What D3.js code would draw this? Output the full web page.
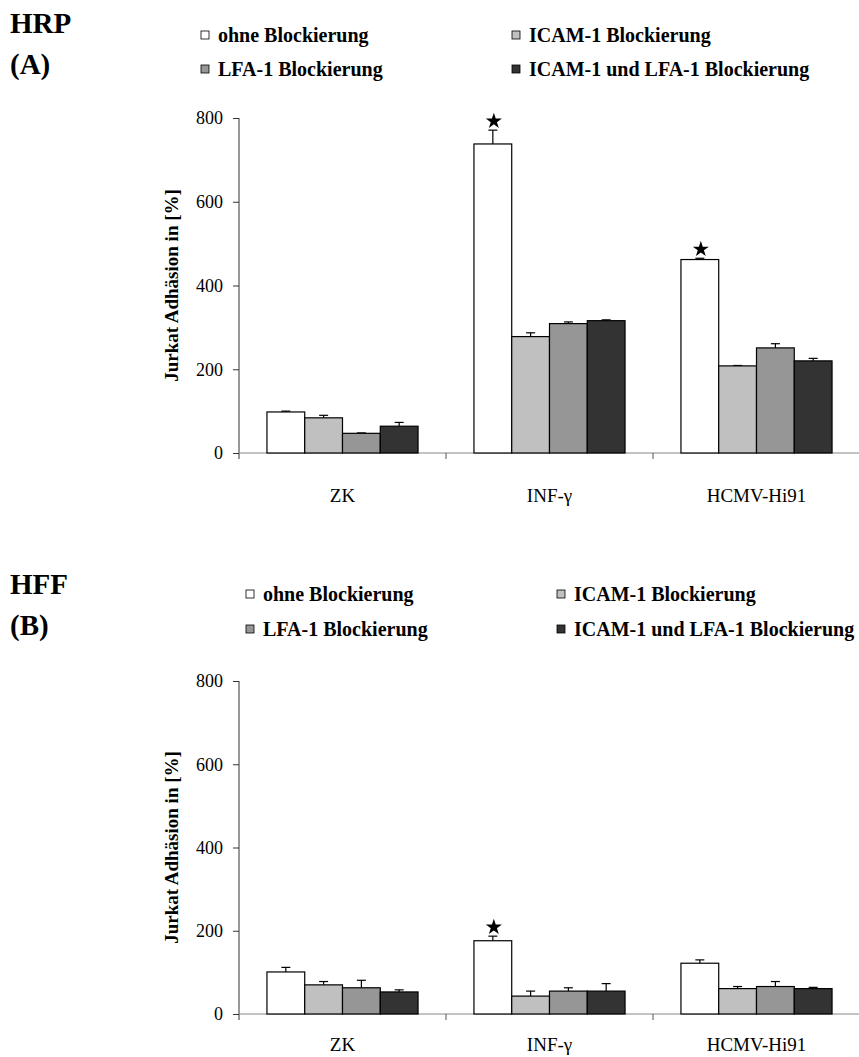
<!DOCTYPE html>
<html>
<head>
<meta charset="utf-8">
<script src="https://cdn.jsdelivr.net/npm/d3@7"></script>
<style>
  body { margin: 0; background: #fff; }
  svg { display: block; font-family: "Liberation Serif", "Times New Roman", serif; }
</style>
</head>
<body>
<svg id="chart"></svg>
<script>
// values (per category: ohne, ICAM-1, LFA-1, ICAM-1+LFA-1)
const categories = ["ZK", "INF-\u03b3", "HCMV-Hi91"];
const seriesNames = ["ohne Blockierung", "ICAM-1 Blockierung", "LFA-1 Blockierung", "ICAM-1 und LFA-1 Blockierung"];
const yTicks = [0, 200, 400, 600, 800];

const hrpValues = [[98, 84, 47, 64], [738, 278, 309, 316], [462, 208, 251, 220]];
const hrpErrors = [[2, 6, 1, 9], [33, 9, 4, 2], [3, 1, 10, 6]];
const hrpStars = ["INF-\u03b3", "HCMV-Hi91"];

const hffValues = [[101, 70, 63, 53], [176, 43, 55, 55], [122, 61, 66, 61]];
const hffErrors = [[11, 8, 18, 5], [11, 12, 8, 18], [8, 5, 12, 3]];
const hffStars = ["INF-\u03b3"];

const colors = ["#ffffff", "#c0c0c0", "#969696", "#333333"];

const width = 859, height = 1057;
const svg = d3.select("#chart").attr("width", width).attr("height", height);

function panel(opts) {
  const g = svg.append("g");

  const x0 = d3.scaleBand().domain(categories).range([239, 860]).padding(0);
  const x1 = d3.scaleBand().domain(seriesNames).range([0, x0.bandwidth()])
      .paddingInner(0).paddingOuter(0.74);
  const y = d3.scaleLinear().domain([0, 800]).range(opts.yRange);

  // title
  g.append("text").attr("x", 10).attr("y", opts.titleY)
      .attr("font-weight", "bold").attr("font-size", 29).text(opts.title);
  g.append("text").attr("x", 10).attr("y", opts.titleY + 41)
      .attr("font-weight", "bold").attr("font-size", 29).text(opts.sub);

  // legend
  const leg = g.append("g").selectAll("g")
    .data(seriesNames)
    .join("g")
      .attr("transform", (d, i) => `translate(${opts.legX[i % 2]},${opts.legY[Math.floor(i / 2)]})`);
  leg.append("rect")
      .attr("x", 0).attr("y", -11).attr("width", 8).attr("height", 8)
      .attr("fill", (d, i) => colors[i]).attr("stroke", "#000").attr("stroke-width", 0.8);
  leg.append("text")
      .attr("x", 17).attr("font-weight", "bold").attr("font-size", 20)
      .text(d => d);

  // axes
  g.append("g")
      .attr("transform", `translate(239,0)`)
      .call(d3.axisLeft(y).tickValues(yTicks).tickSize(6).tickPadding(10).tickSizeOuter(0))
      .call(a => a.select(".domain").attr("stroke", "#333")
          .attr("d", `M0,${opts.yRange[1]}V${opts.yRange[0] + 6}`))
      .call(a => a.selectAll(".tick line").attr("stroke", "#333"))
      .call(a => a.selectAll(".tick text").attr("font-size", 18)
          .attr("font-family", "Liberation Serif").attr("fill", "#000"));

  const xa = g.append("g").attr("transform", `translate(0,${opts.yRange[0]})`);
  xa.append("line").attr("x1", 239).attr("x2", 860).attr("stroke", "#888").attr("stroke-width", 1.2);
  xa.selectAll("line.tk")
    .data(categories.slice(1))
    .join("line").attr("class", "tk")
      .attr("x1", d => x0(d)).attr("x2", d => x0(d))
      .attr("y1", 0).attr("y2", 6).attr("stroke", "#555");
  g.append("g").selectAll("text")
    .data(categories)
    .join("text")
      .attr("x", d => x0(d) + x0.bandwidth() / 2)
      .attr("y", opts.catY)
      .attr("text-anchor", "middle").attr("font-size", 19)
      .text(d => d);

  // y label
  const midY = (opts.yRange[0] + opts.yRange[1]) / 2;
  g.append("text")
      .attr("transform", `translate(178,${midY}) rotate(-90)`)
      .attr("text-anchor", "middle").attr("font-weight", "bold").attr("font-size", 19)
      .text("Jurkat Adh\u00e4sion in [%]");

  // bars
  const rows = [];
  categories.forEach((c, ci) => seriesNames.forEach((s, si) => {
    rows.push({c, s, si, v: opts.values[ci][si], e: opts.errors[ci][si]});
  }));

  const bars = g.append("g").selectAll("g")
    .data(rows)
    .join("g")
      .attr("transform", d => `translate(${x0(d.c) + x1(d.s)},0)`);

  bars.append("line")
      .attr("x1", x1.bandwidth() / 2).attr("x2", x1.bandwidth() / 2)
      .attr("y1", d => y(d.v)).attr("y2", d => y(d.v + d.e))
      .attr("stroke", "#000").attr("stroke-width", 1.2);
  bars.append("line")
      .attr("x1", x1.bandwidth() / 2 - 4.5).attr("x2", x1.bandwidth() / 2 + 4.5)
      .attr("y1", d => y(d.v + d.e)).attr("y2", d => y(d.v + d.e))
      .attr("stroke", "#000").attr("stroke-width", 1.2);
  bars.append("rect")
      .attr("x", 0).attr("width", x1.bandwidth())
      .attr("y", d => y(d.v)).attr("height", d => y(0) - y(d.v))
      .attr("fill", d => colors[d.si]).attr("stroke", "#000").attr("stroke-width", 1.2);

  // significance stars on the unblocked bars
  const star = d3.symbol().type(d3.symbolStar).size(80);
  g.append("g").selectAll("path")
    .data(rows.filter(d => d.si === 0 && opts.stars.includes(d.c)))
    .join("path")
      .attr("d", star)
      .attr("transform", d => `translate(${x0(d.c) + x1(d.s) + x1.bandwidth() / 2 + 1},${y(d.v + d.e) - 9})`)
      .attr("fill", "#000");
}

panel({
  title: "HRP", sub: "(A)", titleY: 33,
  legX: [201, 512], legY: [42, 76],
  yRange: [453, 118], catY: 502,
  values: hrpValues, errors: hrpErrors, stars: hrpStars
});

panel({
  title: "HFF", sub: "(B)", titleY: 594,
  legX: [246, 557], legY: [601, 636],
  yRange: [1014, 681], catY: 1051,
  values: hffValues, errors: hffErrors, stars: hffStars
});
</script>
</body>
</html>
